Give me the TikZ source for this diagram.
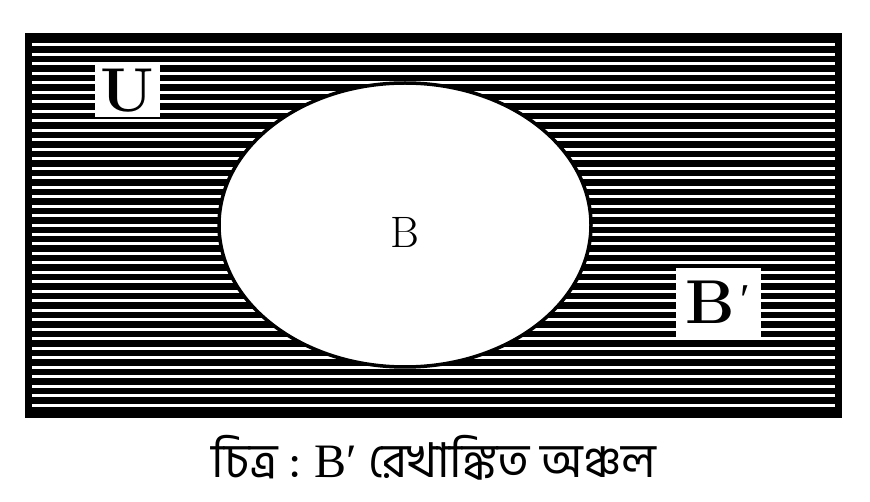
\documentclass[tikz,border=0pt]{standalone}
\usepackage{fontspec}
\newfontfamily\bengalifont[Script=Bengali]{Hind Siliguri}
\newfontfamily\primefont{Liberation Serif}
\usetikzlibrary{shapes.geometric}

\begin{document}
\begin{tikzpicture}[x=1pt, y=-1pt,
        hatchline/.style={white, line width=3pt},
        labelbox/.style={fill=white, inner sep=0pt}]
        \useasboundingbox[fill=white] (0,0) rectangle (870,502);
        % universe
        \node[fill=black, minimum width=817pt, minimum height=385pt, inner sep=0pt] (Universe) at (433.5,225.5) {};
        \foreach \k in {0,...,38} {
            \draw[hatchline] (32,45+\k*9.474) -- (835,45+\k*9.474);
        }
        % set B
        \node[ellipse, draw=black, fill=white, line width=3.5pt, minimum width=372pt, minimum height=284pt, inner sep=0pt] (SetB) at (405,225) {};
        \node (LabelB) at (405,232) {
            \fontsize{44}{44}\selectfont B
        };
        \node[labelbox, minimum width=65pt, minimum height=52pt] (LabelU) at (127.5,91) {
            \fontsize{62}{62}\selectfont\bfseries U
        };
        \node[labelbox, minimum width=85pt, minimum height=69pt] (LabelBc) at (718,302.5) {
            \fontsize{62}{62}\selectfont\bfseries B\hspace{6pt}\raisebox{9pt}{\primefont\mdseries\fontsize{44}{44}\selectfont ′}
        };
        % caption
        \node[anchor=base] (Caption) at (434,477) {
            \fontsize{48}{48}\selectfont\bengalifont চিত্র : {\primefont B′} রেখাঙ্কিত অঞ্চল
        };
\end{tikzpicture}
\end{document}
